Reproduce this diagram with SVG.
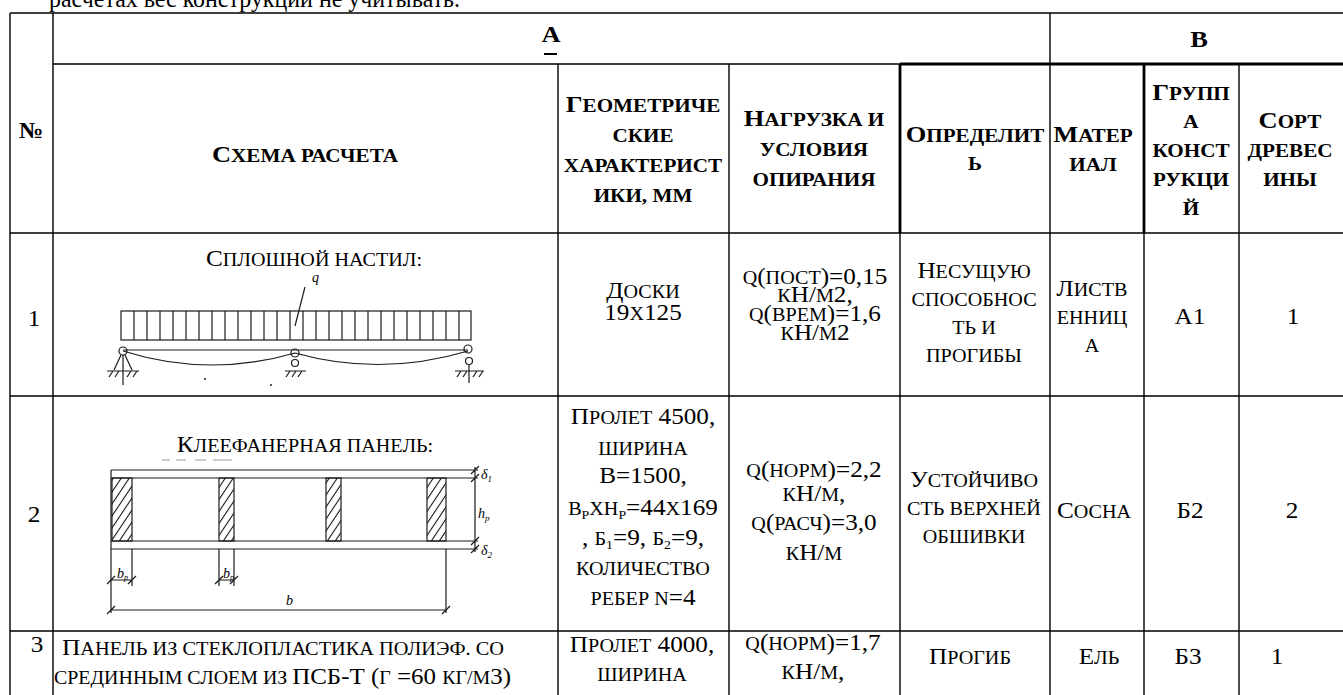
<svg xmlns="http://www.w3.org/2000/svg" width="1343" height="695" viewBox="0 0 1343 695">
<defs>
<style>
text{font-family:"Liberation Serif","Times New Roman",serif;fill:#000}
.d{font-size:24px;text-anchor:middle}
.h{font-size:23px;font-weight:bold;text-anchor:middle}
.sc{font-size:0.8em}
.sub{font-size:0.55em}
.g{stroke:#000;stroke-width:1.4;fill:none}
.gt{stroke:#000;stroke-width:2.8;fill:none}
.dr{stroke:#1c1c1c;stroke-width:1.2;fill:none}
.lab{font-style:italic;font-size:14px}
</style>
<pattern id="hatch" patternUnits="userSpaceOnUse" width="8" height="12">
<path d="M0,12L8,0M-2,3L2,-3M6,15L10,9" stroke="#1c1c1c" stroke-width="1.1"/>
</pattern>
</defs>
<rect width="1343" height="695" fill="#fff"/>

<text x="49" y="7" font-size="25" textLength="411" lengthAdjust="spacingAndGlyphs">расчетах вес конструкций не учитывать.</text>

<g id="grid">
<path class="g" d="M10,13H1343M53,64H900M10,233H1343M10,396H1343M10,631H1343"/>
<path class="gt" d="M900,64H1343"/>
<path class="g" d="M10,13V695M53,13V695M558,64V695M729,64V695M900,233V695M1050,13V695M1144,233V695M1239,64V695"/>
<path class="gt" d="M900,64V233M1144,64V233"/>
</g>

<g id="header">
<text class="h" transform="translate(551,0) scale(1.15,1)"><tspan x="0" y="42">А</tspan></text>
<path d="M544,54H557" stroke="#000" stroke-width="2"/>
<text class="h" transform="translate(1199,0) scale(1.15,1)"><tspan x="0" y="47">В</tspan></text>
<text class="h" transform="translate(31,0) scale(1.05,1)"><tspan x="0" y="138">№</tspan></text>
<text class="h" transform="translate(305,0) scale(1.15,1)"><tspan x="0" y="162">С<tspan class="sc">ХЕМА РАСЧЕТА</tspan></tspan></text>
<text class="h" transform="translate(643,0) scale(1.15,1)"><tspan x="0" y="112">Г<tspan class="sc">ЕОМЕТРИЧЕ</tspan></tspan><tspan x="0" y="142" class="sc">СКИЕ</tspan><tspan x="0" y="172" class="sc">ХАРАКТЕРИСТ</tspan><tspan x="0" y="202" class="sc">ИКИ, ММ</tspan></text>
<text class="h" transform="translate(814,0) scale(1.15,1)"><tspan x="0" y="126">Н<tspan class="sc">АГРУЗКА И</tspan></tspan><tspan x="0" y="156" class="sc">УСЛОВИЯ</tspan><tspan x="0" y="186" class="sc">ОПИРАНИЯ</tspan></text>
<text class="h" transform="translate(975,0) scale(1.15,1)"><tspan x="0" y="142">О<tspan class="sc">ПРЕДЕЛИТ</tspan></tspan><tspan x="0" y="170" class="sc">Ь</tspan></text>
<text class="h" transform="translate(1093,0) scale(1.15,1)"><tspan x="0" y="142">М<tspan class="sc">АТЕР</tspan></tspan><tspan x="0" y="171" class="sc">ИАЛ</tspan></text>
<text class="h" transform="translate(1191,0) scale(1.15,1)"><tspan x="0" y="100">Г<tspan class="sc">РУПП</tspan></tspan><tspan x="0" y="128" class="sc">А</tspan><tspan x="0" y="157" class="sc">КОНСТ</tspan><tspan x="0" y="186" class="sc">РУКЦИ</tspan><tspan x="0" y="215" class="sc">Й</tspan></text>
<text class="h" transform="translate(1290,0) scale(1.15,1)"><tspan x="0" y="128">С<tspan class="sc">ОРТ</tspan></tspan><tspan x="0" y="157" class="sc">ДРЕВЕС</tspan><tspan x="0" y="186" class="sc">ИНЫ</tspan></text>
</g>

<g id="row1">
<text class="d" transform="translate(34,0) scale(1.05,1)"><tspan x="0" y="326">1</tspan></text>
<text class="d" transform="translate(314,0) scale(1.05,1)"><tspan x="0" y="266">С<tspan class="sc">ПЛОШНОЙ НАСТИЛ:</tspan></tspan></text>
<g id="scheme1" class="dr">
<rect x="121" y="311" width="350" height="29"/>
<path d="M134,311V340M147,311V340M160,311V340M173,311V340M186,311V340M199,311V340M212,311V340M225,311V340M238,311V340M251,311V340M264,311V340M277,311V340M290,311V340M303,311V340M316,311V340M329,311V340M342,311V340M355,311V340M368,311V340M381,311V340M394,311V340M407,311V340M420,311V340M433,311V340M446,311V340M459,311V340"/>
<path d="M305,287L295,326"/>
<path d="M123,350H468"/>
<path d="M123,351Q209,378 295,353M295,353Q381,377 468,351"/>
<circle cx="123" cy="351" r="4"/>
<path d="M121,355L114,370M125,355L132,370M123,355V385M107,371H139M109,377L113,371M115,377L119,371M127,377L131,371M133,377L137,371"/>
<circle cx="295" cy="353" r="4"/>
<circle cx="295" cy="363" r="3.5"/>
<path d="M285,371H306M286,377L290,371M292,377L296,371M298,377L302,371"/>
<circle cx="468" cy="349" r="4"/>
<circle cx="469" cy="361" r="3.5"/>
<path d="M455,371H484M469,365V383M457,377L461,371M463,377L467,371M473,377L477,371M479,377L483,371"/>
</g>
<circle cx="205" cy="379" r="1" fill="#1c1c1c"/>
<circle cx="271" cy="385" r="1" fill="#1c1c1c"/>
<text class="lab" x="312" y="282">q</text>
<text class="d" transform="translate(643,0) scale(1.05,1)"><tspan x="0" y="298">Д<tspan class="sc">ОСКИ</tspan></tspan><tspan x="0" y="320">19<tspan class="sc">Х</tspan>125</tspan></text>
<text class="d" transform="translate(815,0) scale(1.05,1)"><tspan x="0" y="284"><tspan class="sc">Q</tspan>(<tspan class="sc">ПОСТ</tspan>)=0,15</tspan><tspan x="0" y="302"><tspan class="sc">К</tspan>Н/<tspan class="sc">М</tspan>2,</tspan><tspan x="0" y="321"><tspan class="sc">Q</tspan>(<tspan class="sc">ВРЕМ</tspan>)=1,6</tspan><tspan x="0" y="340"><tspan class="sc">К</tspan>Н/<tspan class="sc">М</tspan>2</tspan></text>
<text class="d" transform="translate(974,0) scale(1.05,1)"><tspan x="0" y="278">Н<tspan class="sc">ЕСУЩУЮ</tspan></tspan><tspan x="0" y="306" class="sc">СПОСОБНОС</tspan><tspan x="0" y="334" class="sc">ТЬ И</tspan><tspan x="0" y="362" class="sc">ПРОГИБЫ</tspan></text>
<text class="d" transform="translate(1092,0) scale(1.05,1)"><tspan x="0" y="296">Л<tspan class="sc">ИСТВ</tspan></tspan><tspan x="0" y="324" class="sc">ЕННИЦ</tspan><tspan x="0" y="352" class="sc">А</tspan></text>
<text class="d" transform="translate(1190,0) scale(1.05,1)"><tspan x="0" y="324">А1</tspan></text>
<text class="d" transform="translate(1293,0) scale(1.05,1)"><tspan x="0" y="324">1</tspan></text>
</g>

<g id="row2">
<text class="d" transform="translate(34,0) scale(1.05,1)"><tspan x="0" y="522">2</tspan></text>
<text class="d" transform="translate(305,0) scale(1.05,1)"><tspan x="0" y="452">К<tspan class="sc">ЛЕЕФАНЕРНАЯ ПАНЕЛЬ:</tspan></tspan></text>
<path d="M162,460H170M176,460H186M195,460H206M213,460H232" stroke="#bbb" stroke-width="1.5"/>
<g id="scheme2" class="dr">
<rect x="112" y="478" width="20" height="63" fill="url(#hatch)"/>
<rect x="219" y="478" width="15" height="63" fill="url(#hatch)"/>
<rect x="326" y="478" width="15" height="63" fill="url(#hatch)"/>
<rect x="427" y="478" width="19" height="63" fill="url(#hatch)"/>
<path d="M111,470H478M111,478H478M111,541H478M111,549H478M111,470V613M446,549V613"/>
<path d="M475,467V552M471,474L479,466M471,482L479,474M471,545L479,537M471,553L479,545"/>
<path d="M111,610H446M107,614L115,606M442,614L450,606"/>
<path d="M132,549V586M219,549V586M234,549V586M111,580H132M219,580H234M107,584L115,576M128,584L136,576M215,584L223,576M230,584L238,576"/>
</g>
<text class="lab" x="481" y="479">δ<tspan font-size="9" dy="3">1</tspan></text>
<text class="lab" x="478" y="518">h<tspan font-size="9" dy="3">p</tspan></text>
<text class="lab" x="481" y="555">δ<tspan font-size="9" dy="3">2</tspan></text>
<text class="lab" x="117" y="578" font-size="11">b<tspan font-size="8" dy="2">p</tspan></text>
<text class="lab" x="223" y="578" font-size="11">b<tspan font-size="8" dy="2">p</tspan></text>
<text class="lab" x="286" y="605">b</text>
<text class="d" transform="translate(643,0) scale(1.05,1)"><tspan x="0" y="424">П<tspan class="sc">РОЛЕТ</tspan> 4500,</tspan><tspan x="0" y="455" class="sc">ШИРИНА</tspan><tspan x="0" y="483">В=1500,</tspan><tspan x="0" y="515"><tspan class="sc">В</tspan><tspan class="sub" dy="4">Р</tspan><tspan class="sc" dy="-4">ХН</tspan><tspan class="sub" dy="4">Р</tspan><tspan dy="-4">=44</tspan><tspan class="sc">Х</tspan>169</tspan><tspan x="0" y="545">, <tspan class="sc">Б</tspan><tspan class="sub" dy="4">1</tspan><tspan dy="-4">=9,  </tspan><tspan class="sc">Б</tspan><tspan class="sub" dy="4">2</tspan><tspan dy="-4">=9,</tspan></tspan><tspan x="0" y="575" class="sc">КОЛИЧЕСТВО</tspan><tspan x="0" y="605"><tspan class="sc">РЕБЕР N</tspan>=4</tspan></text>
<text class="d" transform="translate(814,0) scale(1.05,1)"><tspan x="0" y="477"><tspan class="sc">Q</tspan>(<tspan class="sc">НОРМ</tspan>)=2,2</tspan><tspan x="0" y="501"><tspan class="sc">К</tspan>Н/<tspan class="sc">М</tspan>,</tspan><tspan x="0" y="530"><tspan class="sc">Q</tspan>(<tspan class="sc">РАСЧ</tspan>)=3,0</tspan><tspan x="0" y="560"><tspan class="sc">К</tspan>Н/<tspan class="sc">М</tspan></tspan></text>
<text class="d" transform="translate(974,0) scale(1.05,1)"><tspan x="0" y="487">У<tspan class="sc">СТОЙЧИВО</tspan></tspan><tspan x="0" y="515" class="sc">СТЬ ВЕРХНЕЙ</tspan><tspan x="0" y="543" class="sc">ОБШИВКИ</tspan></text>
<text class="d" transform="translate(1094,0) scale(1.05,1)"><tspan x="0" y="518">С<tspan class="sc">ОСНА</tspan></tspan></text>
<text class="d" transform="translate(1190,0) scale(1.05,1)"><tspan x="0" y="518">Б2</tspan></text>
<text class="d" transform="translate(1292,0) scale(1.05,1)"><tspan x="0" y="518">2</tspan></text>
</g>

<g id="row3">
<text class="d" transform="translate(37,0) scale(1.05,1)"><tspan x="0" y="652">3</tspan></text>
<text x="62" y="655" font-size="24" textLength="442" lengthAdjust="spacingAndGlyphs">П<tspan class="sc">АНЕЛЬ ИЗ СТЕКЛОПЛАСТИКА ПОЛИЭФ. СО</tspan></text>
<text x="54" y="684" font-size="24" textLength="457" lengthAdjust="spacingAndGlyphs"><tspan class="sc">СРЕДИННЫМ СЛОЕМ  ИЗ </tspan>ПСБ-Т (<tspan class="sc">Г</tspan> =60 <tspan class="sc">КГ/М</tspan>3)</text>
<text class="d" transform="translate(642,0) scale(1.05,1)"><tspan x="0" y="652">П<tspan class="sc">РОЛЕТ</tspan> 4000,</tspan><tspan x="0" y="681" class="sc">ШИРИНА</tspan></text>
<text class="d" transform="translate(813,0) scale(1.05,1)"><tspan x="0" y="650"><tspan class="sc">Q</tspan>(<tspan class="sc">НОРМ</tspan>)=1,7</tspan><tspan x="0" y="679"><tspan class="sc">К</tspan>Н/<tspan class="sc">М</tspan>,</tspan></text>
<text class="d" transform="translate(970,0) scale(1.05,1)"><tspan x="0" y="664">П<tspan class="sc">РОГИБ</tspan></tspan></text>
<text class="d" transform="translate(1099,0) scale(1.05,1)"><tspan x="0" y="664">Е<tspan class="sc">ЛЬ</tspan></tspan></text>
<text class="d" transform="translate(1188,0) scale(1.05,1)"><tspan x="0" y="664">Б3</tspan></text>
<text class="d" transform="translate(1277,0) scale(1.05,1)"><tspan x="0" y="664">1</tspan></text>
</g>
</svg>
